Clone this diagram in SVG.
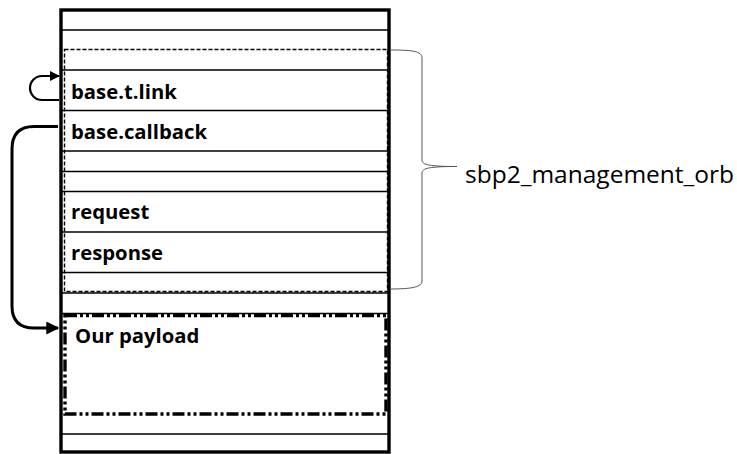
<svg xmlns="http://www.w3.org/2000/svg" width="737" height="454" viewBox="0 0 737 454">
  <defs>
    <style>
      .row { stroke: #000; stroke-width: 1.3; fill: none; }
      .lbl { font-family: "Open Sans", "Liberation Sans", sans-serif; font-weight: bold; font-size: 20.3px; fill: #000; }
      .side { font-family: "Open Sans", "Liberation Sans", sans-serif; font-size: 24.5px; fill: #000; }
      .link { stroke: #000; fill: none; }
    </style>
    <marker id="arrowHead" viewBox="0 0 10 10" refX="9" refY="5" markerWidth="10" markerHeight="10" markerUnits="userSpaceOnUse" orient="auto">
      <path d="M0,0 L10,5 L0,10 z" fill="#000"/>
    </marker>
    <marker id="arrowHeadBig" viewBox="0 0 10 10" refX="9" refY="5" markerWidth="15" markerHeight="13" markerUnits="userSpaceOnUse" orient="auto">
      <path d="M0,0 L10,5 L0,10 z" fill="#000"/>
    </marker>
  </defs>

  <rect width="737" height="454" fill="#fff"/>

  <!-- memory block: outer frame and row separators -->
  <g id="memory">
    <line class="row" x1="61" y1="30" x2="389" y2="30"/>
    <line class="row" x1="61" y1="70" x2="389" y2="70"/>
    <line class="row" x1="61" y1="110.5" x2="389" y2="110.5"/>
    <line class="row" x1="61" y1="151" x2="389" y2="151"/>
    <line class="row" x1="61" y1="171.5" x2="389" y2="171.5"/>
    <line class="row" x1="61" y1="191.5" x2="389" y2="191.5"/>
    <line class="row" x1="61" y1="232" x2="389" y2="232"/>
    <line class="row" x1="61" y1="272.5" x2="389" y2="272.5"/>
    <line class="row" x1="61" y1="293" x2="389" y2="293"/>
    <line class="row" x1="61" y1="313.5" x2="389" y2="313.5"/>
    <line class="row" x1="61" y1="434" x2="389" y2="434"/>
    <rect x="61" y="10" width="328" height="442" fill="none" stroke="#000" stroke-width="3.4"/>
  </g>

  <!-- sbp2_management_orb region -->
  <g id="orb">
    <rect x="64.5" y="49.5" width="323" height="242" fill="none" stroke="#000" stroke-width="1.4" stroke-dasharray="4 2"/>
    <text class="lbl" x="71" y="99">base.t.link</text>
    <text class="lbl" x="71" y="138.5">base.callback</text>
    <text class="lbl" x="71" y="219">request</text>
    <text class="lbl" x="71" y="259.5">response</text>
  </g>

  <!-- payload region -->
  <g id="payload">
    <rect x="65" y="315.5" width="321" height="98.5" fill="none" stroke="#000" stroke-width="3.4" stroke-dasharray="12 3 3 3 3 3"/>
    <text class="lbl" x="75" y="343">Our payload</text>
  </g>

  <!-- brace and its label -->
  <g id="orb-label">
    <path d="M390,50 C412,50 422,51 422,58 V160 C422,165 430,166.5 457,166.5 C430,166.5 422,168 422,173 V281 C422,287 412,289 390,289" fill="none" stroke="#555" stroke-width="1"/>
    <text class="side" x="465" y="183">sbp2_management_orb</text>
  </g>

  <!-- pointers -->
  <g id="connectors">
    <path class="link" stroke-width="2.2" d="M59,100 H42 A12,12 0 0 1 42,76 H59" marker-end="url(#arrowHead)"/>
    <path class="link" stroke-width="3" d="M58,126.5 H34 Q12,126.5 12,149 V306 Q12,328 34,328 H58" marker-end="url(#arrowHeadBig)"/>
  </g>
</svg>
